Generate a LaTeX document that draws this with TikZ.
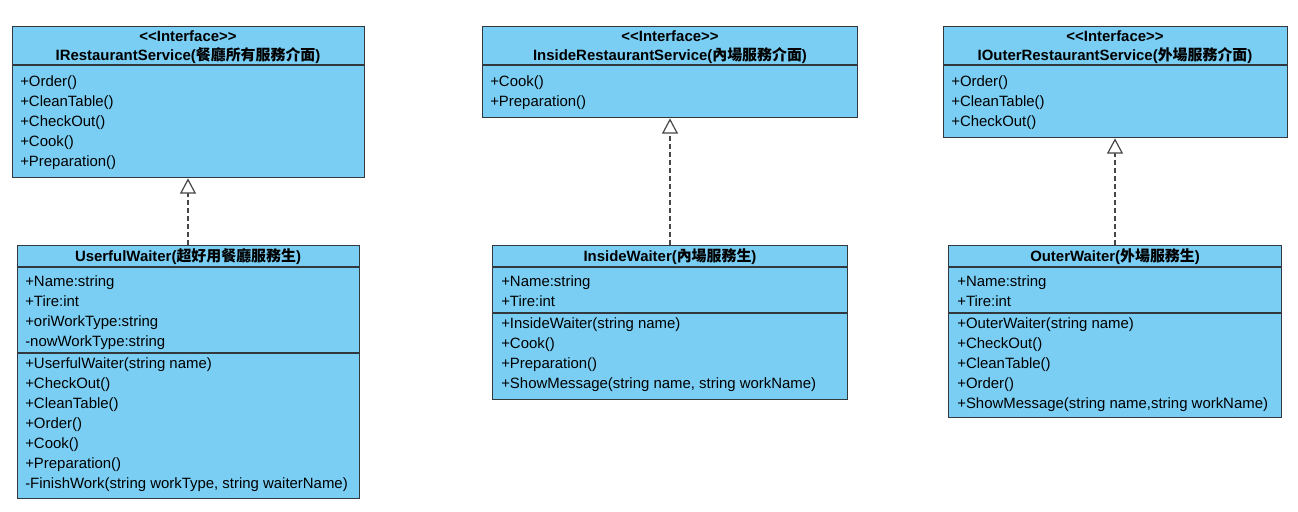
\documentclass[tikz,border=0pt]{standalone}
\usepackage{fontspec}
\setmainfont{Liberation Sans}
\newfontfamily\cjk{Noto Sans CJK TC}
\usetikzlibrary{arrows.meta}
\definecolor{boxfill}{RGB}{122,206,244}
\definecolor{boxline}{RGB}{50,56,60}
\definecolor{dashline}{RGB}{70,70,70}
\newcommand{\zh}[1]{{\cjk #1}}
\newcommand{\stereo}{<\kern0pt<Interface>\kern0pt>}
\begin{document}
\begin{tikzpicture}[x=0.75pt,y=-0.75pt,
  every node/.style={font=\fontsize{11.2}{13}\selectfont, text=black},
  classbox/.style={draw=boxline, fill=boxfill, line width=1pt, rectangle, inner sep=0pt, anchor=north west},
  sepline/.style={draw=boxline, line width=1pt},
  rowtext/.style={anchor=base west, inner sep=0pt},
  headtext/.style={anchor=base, inner sep=0pt, font=\fontsize{11.2}{13}\selectfont\bfseries},
  realize/.style={draw=dashline, line width=1pt, dash pattern=on 3.4pt off 2.6pt,
    -{Triangle[open, length=11.5pt, width=12pt, line width=0.9pt, fill=white]}}
]
\useasboundingbox (0,0) rectangle (1298,511);

% ---------- IRestaurantService
\node[classbox, minimum width=352*0.75pt, minimum height=151*0.75pt] (i1) at (12,26) {};
\draw[sepline] (12,65) -- (364,65);
\node[headtext] (i1s) at (188,41) {\stereo};
\node[headtext] (i1n) at (188,60) {IRestaurantService(\zh{餐廳所有服務介面})};
\foreach \t [count=\k from 0] in {+Order(),+CleanTable(),+CheckOut(),+Cook(),+Preparation()}
  \node[rowtext] (i1r\k) at (20,86+20*\k) {\t};

% ---------- UserfulWaiter
\node[classbox, minimum width=342*0.75pt, minimum height=253*0.75pt] (w1) at (17,245) {};
\draw[sepline] (17,267) -- (359,267);
\draw[sepline] (17,353) -- (359,353);
\node[headtext] (w1n) at (188,261) {UserfulWaiter(\zh{超好用餐廳服務生})};
\foreach \t [count=\k from 0] in {+Name:string,+Tire:int,+oriWorkType:string,-nowWorkType:string}
  \node[rowtext] (w1a\k) at (25,286+20*\k) {\t};
\foreach \t [count=\k from 0] in {+UserfulWaiter(string name),+CheckOut(),+CleanTable(),+Order(),+Cook(),+Preparation(),{-FinishWork(string workType, string waiterName)}}
  \node[rowtext] (w1m\k) at (25,368+20*\k) {\t};

% ---------- InsideRestaurantService
\node[classbox, minimum width=375*0.75pt, minimum height=91*0.75pt] (i2) at (482,26) {};
\draw[sepline] (482,65) -- (857,65);
\node[headtext] (i2s) at (670,41) {\stereo};
\node[headtext] (i2n) at (670,60) {InsideRestaurantService(\zh{內場服務介面})};
\foreach \t [count=\k from 0] in {+Cook(),+Preparation()}
  \node[rowtext] (i2r\k) at (490,86+20*\k) {\t};

% ---------- InsideWaiter
\node[classbox, minimum width=355*0.75pt, minimum height=154*0.75pt] (w2) at (492,245) {};
\draw[sepline] (492,267) -- (847,267);
\draw[sepline] (492,313) -- (847,313);
\node[headtext] (w2n) at (670,261) {InsideWaiter(\zh{內場服務生})};
\foreach \t [count=\k from 0] in {+Name:string,+Tire:int}
  \node[rowtext] (w2a\k) at (501,286+20*\k) {\t};
\foreach \t [count=\k from 0] in {+InsideWaiter(string name),+Cook(),+Preparation(),{+ShowMessage(string name, string workName)}}
  \node[rowtext] (w2m\k) at (501,328+20*\k) {\t};

% ---------- IOuterRestaurantService
\node[classbox, minimum width=344*0.75pt, minimum height=111*0.75pt] (i3) at (943,26) {};
\draw[sepline] (943,65) -- (1287,65);
\node[headtext] (i3s) at (1115,41) {\stereo};
\node[headtext] (i3n) at (1115,60) {IOuterRestaurantService(\zh{外場服務介面})};
\foreach \t [count=\k from 0] in {+Order(),+CleanTable(),+CheckOut()}
  \node[rowtext] (i3r\k) at (951,86+20*\k) {\t};

% ---------- OuterWaiter
\node[classbox, minimum width=333*0.75pt, minimum height=172*0.75pt] (w3) at (948,245) {};
\draw[sepline] (948,267) -- (1281,267);
\draw[sepline] (948,313) -- (1281,313);
\node[headtext] (w3n) at (1115,261) {OuterWaiter(\zh{外場服務生})};
\foreach \t [count=\k from 0] in {+Name:string,+Tire:int}
  \node[rowtext] (w3a\k) at (957,286+20*\k) {\t};
\foreach \t [count=\k from 0] in {+OuterWaiter(string name),+CheckOut(),+CleanTable(),+Order(),{+ShowMessage(string name,string workName)}}
  \node[rowtext] (w3m\k) at (957,328+20*\k) {\t};

% ---------- realizations
\draw[realize] (w1.north -| i1n) -- (i1.south -| i1n);
\draw[realize] (w2.north -| i2n) -- (i2.south -| i2n);
\draw[realize] (w3.north -| i3n) -- (i3.south -| i3n);
\end{tikzpicture}
\end{document}
